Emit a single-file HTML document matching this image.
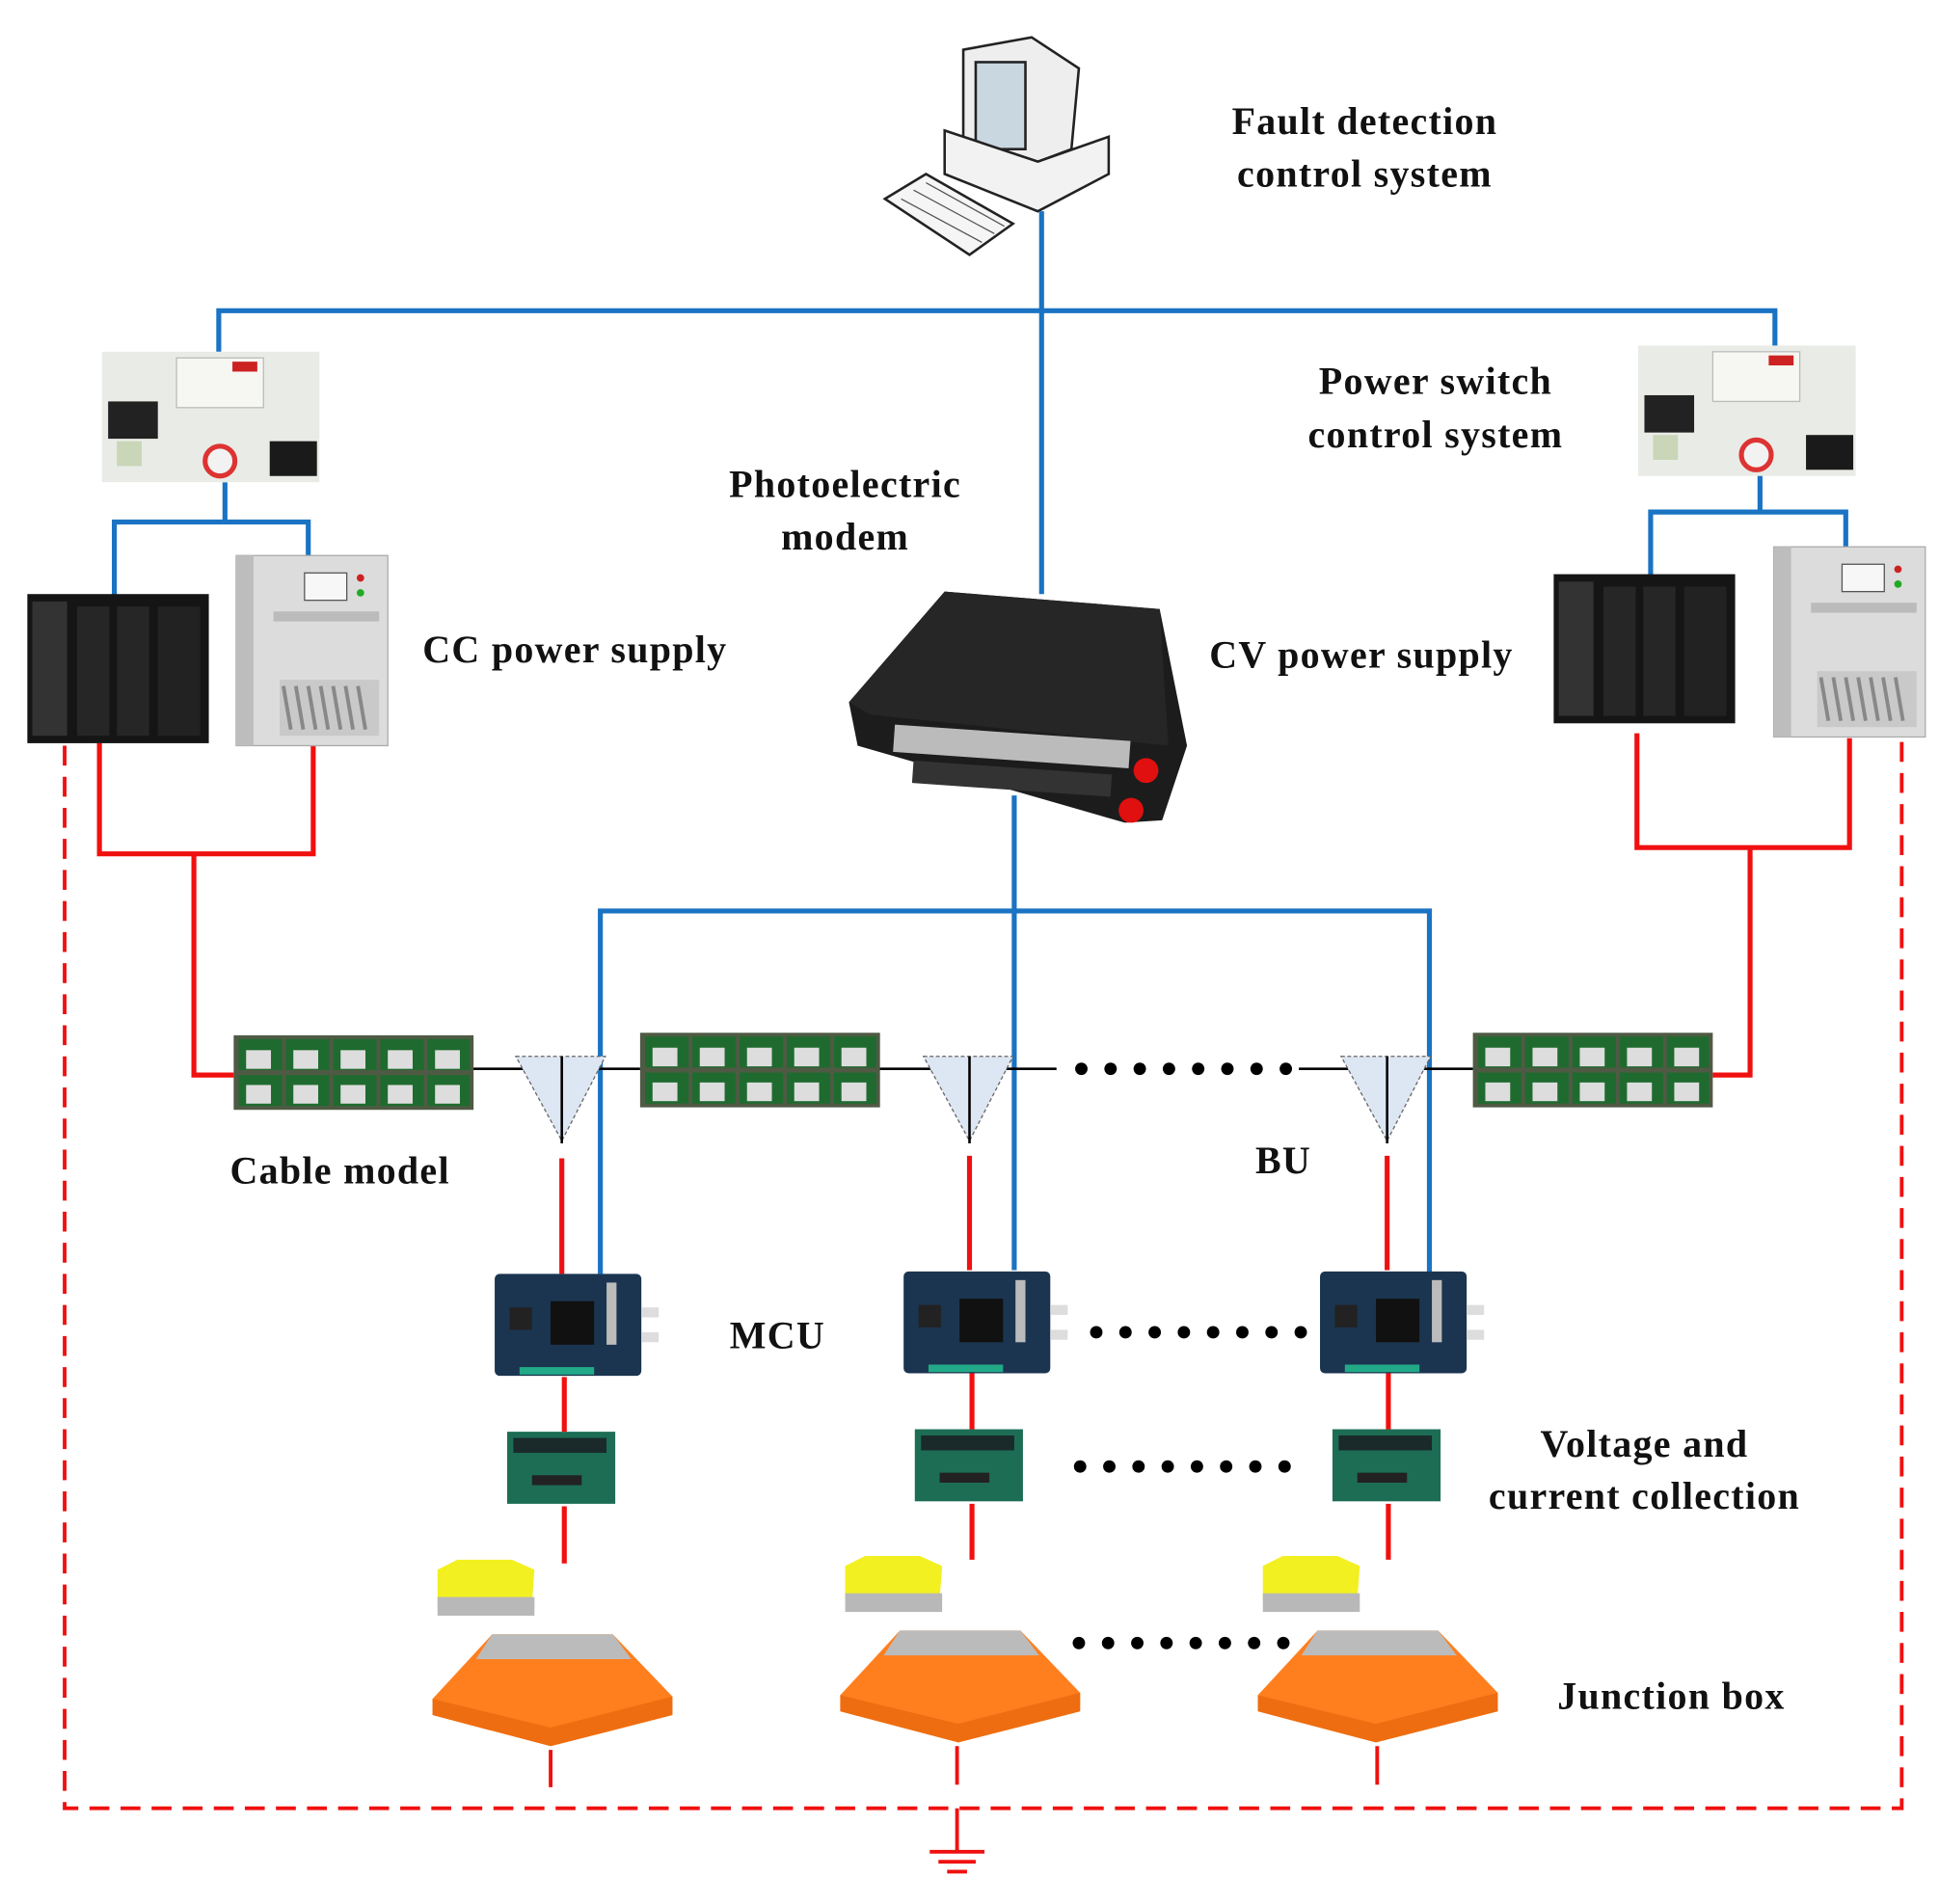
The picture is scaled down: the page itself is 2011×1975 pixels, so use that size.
<!DOCTYPE html>
<html><head><meta charset="utf-8"><style>
html,body{margin:0;padding:0;background:#fff}
svg{display:block}
text{font-family:"Liberation Serif",serif;font-weight:bold;font-size:31px;fill:#111;letter-spacing:1px}
</style></head><body>
<svg width="2011" height="1975" viewBox="0 0 1560 1532" preserveAspectRatio="none" xmlns="http://www.w3.org/2000/svg">
<defs>
<g id="d1"><circle cx="0" cy="0" r="5"/><circle cx="23.5" cy="0" r="5"/><circle cx="47" cy="0" r="5"/><circle cx="70.5" cy="0" r="5"/><circle cx="94" cy="0" r="5"/><circle cx="117.5" cy="0" r="5"/><circle cx="141" cy="0" r="5"/><circle cx="164.5" cy="0" r="5"/></g>
<g id="sw">
 <rect x="0" y="0" width="175" height="105" fill="#e9ece6"/>
 <rect x="5" y="40" width="40" height="30" fill="#222"/>
 <rect x="135" y="72" width="38" height="28" fill="#1a1a1a"/>
 <rect x="60" y="5" width="70" height="40" fill="#f6f6f2" stroke="#bbb"/>
 <circle cx="95" cy="88" r="12" fill="#f2f2f2" stroke="#d33" stroke-width="4"/>
 <rect x="12" y="72" width="20" height="20" fill="#c9d6b8"/>
 <rect x="105" y="8" width="20" height="8" fill="#c22"/>
</g>
<g id="blk">
 <rect x="0" y="0" width="146" height="120" fill="#151515"/>
 <rect x="4" y="6" width="28" height="108" fill="#333"/>
 <rect x="40" y="10" width="26" height="104" fill="#262626"/>
 <rect x="72" y="10" width="26" height="104" fill="#262626"/>
 <rect x="105" y="10" width="34" height="104" fill="#222"/>
</g>
<g id="gry">
 <rect x="0" y="0" width="122" height="153" fill="#dcdcdc" stroke="#aaa"/>
 <rect x="0" y="0" width="14" height="153" fill="#bdbdbd"/>
 <rect x="55" y="14" width="34" height="22" fill="#f7f7f7" stroke="#555"/>
 <circle cx="100" cy="18" r="3" fill="#c22"/><circle cx="100" cy="30" r="3" fill="#2a2"/>
 <rect x="30" y="45" width="85" height="8" fill="#bbb"/>
 <rect x="35" y="100" width="80" height="45" fill="#c9c9c9"/>
 <path d="M38 105 l6 35 M48 105 l6 35 M58 105 l6 35 M68 105 l6 35 M78 105 l6 35 M88 105 l6 35 M98 105 l6 35" stroke="#888" stroke-width="3"/>
</g>
<g id="cab">
 <rect x="0" y="0" width="193" height="60" fill="#4f5a44"/>
 <g fill="#1f6b2f"><rect x="4" y="3" width="35" height="25"/><rect x="42" y="3" width="35" height="25"/><rect x="80" y="3" width="35" height="25"/><rect x="118" y="3" width="35" height="25"/><rect x="156" y="3" width="34" height="25"/>
 <rect x="4" y="32" width="35" height="25"/><rect x="42" y="32" width="35" height="25"/><rect x="80" y="32" width="35" height="25"/><rect x="118" y="32" width="35" height="25"/><rect x="156" y="32" width="34" height="25"/></g>
 <g fill="#ddd"><rect x="10" y="12" width="20" height="15"/><rect x="48" y="12" width="20" height="15"/><rect x="86" y="12" width="20" height="15"/><rect x="124" y="12" width="20" height="15"/><rect x="162" y="12" width="20" height="15"/>
 <rect x="10" y="40" width="20" height="15"/><rect x="48" y="40" width="20" height="15"/><rect x="86" y="40" width="20" height="15"/><rect x="124" y="40" width="20" height="15"/><rect x="162" y="40" width="20" height="15"/></g>
</g>
<g id="bu">
 <polygon points="0,0 72,0 37,68" fill="#dde7f3" stroke="#666" stroke-dasharray="3,2"/>
 <path d="M37 0 V70" stroke="#000" stroke-width="2"/>
</g>
<g id="mcu">
 <rect x="0" y="3" width="118" height="82" rx="4" fill="#1b3550"/>
 <rect x="45" y="25" width="35" height="35" fill="#111"/>
 <rect x="12" y="30" width="18" height="18" fill="#222"/>
 <rect x="90" y="10" width="8" height="50" fill="#bbb"/>
 <rect x="20" y="78" width="60" height="6" fill="#2a8"/>
 <rect x="118" y="30" width="14" height="8" fill="#ddd"/><rect x="118" y="50" width="14" height="8" fill="#ddd"/>
</g>
<g id="vc">
 <rect x="0" y="0" width="87" height="58" fill="#1d6d55"/>
 <rect x="5" y="5" width="75" height="12" fill="#1a2a2a"/>
 <rect x="20" y="35" width="40" height="8" fill="#222"/>
</g>
<g id="jb">
 <polygon points="4,8 20,0 64,0 82,8 80,35 4,35" fill="#f2f020"/>
 <rect x="4" y="30" width="78" height="15" fill="#b8b8b8"/>
 <polygon points="48,60 145,60 193,110 193,125 95,150 0,125 0,112" fill="#ff7f1f"/>
 <polygon points="48,60 145,60 160,80 35,80" fill="#bbb"/>
 <polygon points="0,112 95,135 193,110 193,125 95,150 0,125" fill="#ee6d10"/>
</g>
</defs>

<!-- computer -->
<polygon points="775,40 830,30 868,55 862,120 822,135 775,115" fill="#eee" stroke="#222" stroke-width="2"/>
<rect x="785" y="50" width="40" height="70" fill="#c9d7e0" stroke="#222" stroke-width="2"/>
<polygon points="760,105 835,130 892,110 892,140 835,170 760,140" fill="#f2f2f2" stroke="#222" stroke-width="2"/>
<polygon points="712,160 745,140 815,180 780,205" fill="#f5f5f5" stroke="#222" stroke-width="2"/>
<path d="M725 160 L790 195 M735 153 L800 188 M745 147 L808 182" stroke="#555"/>

<!-- blue lines -->
<g stroke="#1a73c3" stroke-width="4" fill="none">
<path d="M838 170 V478"/>
<path d="M176 283 V250 H1428 V280"/>
<path d="M181 388 V420 M92 480 V420 H248 V450"/>
<path d="M1416 382 V412 M1328 465 V412 H1485 V442"/>
<path d="M816 640 V1022 M483 1025 V733 H1150 V1025"/>
</g>

<!-- red lines -->
<g stroke="#f01010" stroke-width="4" fill="none">
<path d="M80 598 V687 H252 V600 M156 687 V865 H188"/>
<path d="M1317 590 V682 H1488 V594 M1408 682 V865 H1378"/>
<path d="M452 932 V1025 M780 930 V1022 M1116 930 V1022"/>
<path d="M454 1108 V1152 M454 1212 V1258 M782 1104 V1150 M782 1210 V1255 M1117 1104 V1150 M1117 1210 V1255"/>
<path d="M443 1408 V1438 M770 1405 V1436 M1108 1405 V1436" stroke-width="3"/>
<path d="M52 600 V1455 H1530 V596" stroke-width="3" stroke-dasharray="16,9"/>
<path d="M770 1455 V1490" stroke-width="3"/>
<path d="M748 1490 H792 M755 1498 H785 M762 1506 H778" stroke-width="3"/>
</g>

<!-- black bus -->
<g stroke="#000" stroke-width="2">
<path d="M380 860 H515 M707 860 H850 M1045 860 H1185"/>
</g>
<use href="#bu" x="415" y="850"/>
<use href="#bu" x="743" y="850"/>
<use href="#bu" x="1079" y="850"/>

<!-- devices -->
<use href="#sw" x="82" y="283"/>
<use href="#sw" x="1318" y="278"/>
<use href="#blk" x="22" y="478"/>
<use href="#gry" x="190" y="447"/>
<use href="#blk" x="1250" y="462"/>
<use href="#gry" x="1427" y="440"/>

<!-- modem -->
<polygon points="683,565 760,476 933,490 955,600 935,660 905,662 690,600" fill="#1c1c1c"/>
<polygon points="683,565 700,575 940,600 933,490 760,476" fill="#262626"/>
<rect x="720" y="583" width="190" height="22" fill="#bbb" transform="rotate(4 720 583)"/>
<rect x="735" y="612" width="160" height="18" fill="#333" transform="rotate(4 735 612)"/>
<circle cx="922" cy="620" r="10" fill="#e01010"/><circle cx="910" cy="652" r="10" fill="#e01010"/>

<use href="#cab" x="188" y="833"/>
<use href="#cab" x="515" y="831"/>
<use href="#cab" x="1185" y="831"/>

<use href="#mcu" x="398" y="1022"/>
<use href="#mcu" x="727" y="1020"/>
<use href="#mcu" x="1062" y="1020"/>
<use href="#vc" x="408" y="1152"/>
<use href="#vc" x="736" y="1150"/>
<use href="#vc" x="1072" y="1150"/>
<use href="#jb" x="348" y="1255"/>
<use href="#jb" x="676" y="1252"/>
<use href="#jb" x="1012" y="1252"/>

<!-- dots -->
<g fill="#000">
<use href="#d1" x="870" y="860"/>
<use href="#d1" x="882" y="1072"/>
<use href="#d1" x="869" y="1180"/>
<use href="#d1" x="868" y="1322"/>
</g>

<!-- labels -->
<text x="1098" y="108" text-anchor="middle">Fault detection</text>
<text x="1098" y="150" text-anchor="middle">control system</text>
<text x="1155" y="317" text-anchor="middle">Power switch</text>
<text x="1155" y="360" text-anchor="middle">control system</text>
<text x="680" y="400" text-anchor="middle">Photoelectric</text>
<text x="680" y="442" text-anchor="middle">modem</text>
<text x="340" y="533">CC power supply</text>
<text x="973" y="537">CV power supply</text>
<text x="185" y="952">Cable model</text>
<text x="1010" y="944">BU</text>
<text x="587" y="1085">MCU</text>
<text x="1323" y="1172" text-anchor="middle">Voltage and</text>
<text x="1323" y="1214" text-anchor="middle">current collection</text>
<text x="1253" y="1375">Junction box</text>
</svg>
</body></html>
